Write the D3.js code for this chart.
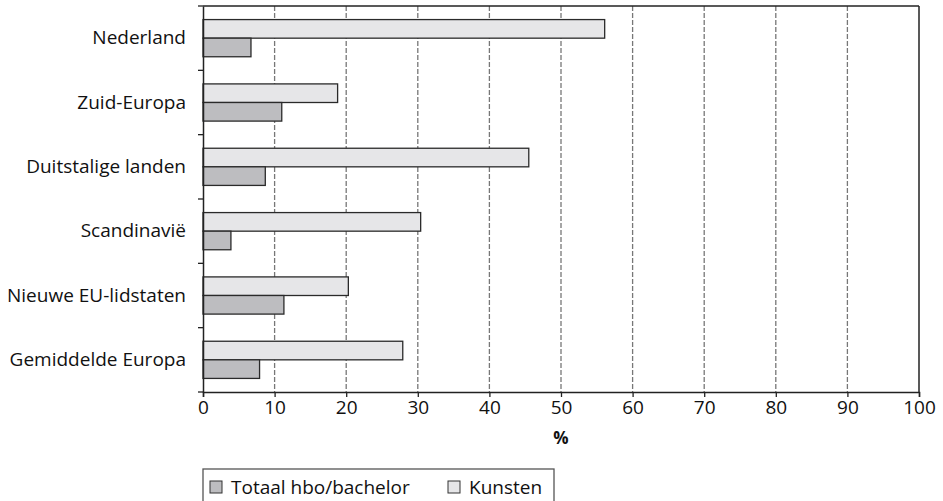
<!DOCTYPE html>
<html>
<head>
<meta charset="utf-8">
<script src="https://cdn.jsdelivr.net/npm/d3@7"></script>
<style>
  body { margin: 0; background: #fff; }
  text { font-family: "Open Sans", "DejaVu Sans", sans-serif; fill: #111; }
</style>
</head>
<body>
<div id="chart"></div>
<script>
var categories = ["Nederland", "Zuid-Europa", "Duitstalige landen", "Scandinavië", "Nieuwe EU-lidstaten", "Gemiddelde Europa"];
var series = ["Kunsten", "Totaal hbo/bachelor"];
var kunsten = [56.1, 18.8, 45.5, 30.4, 20.3, 27.9];
var totaal = [6.7, 11.0, 8.7, 3.9, 11.3, 7.9];
var xTicks = [0, 10, 20, 30, 40, 50, 60, 70, 80, 90, 100];

var width = 943,
	height = 501,
	margin = {top: 6, right: 24, bottom: 109, left: 203};

var color = {"Kunsten": "#e6e6e8", "Totaal hbo/bachelor": "#bdbdc0"};

var rows = categories.map(function(c, i) {
	return {name: c, values: [
		{key: "Kunsten", value: kunsten[i]},
		{key: "Totaal hbo/bachelor", value: totaal[i]}
	]};
});

var svg = d3.select("#chart")
	.append("svg")
	.attr("width", width)
	.attr("height", height);

var x = d3.scaleLinear()
	.domain([0, 100])
	.range([margin.left, width - margin.right]);

var y = d3.scaleBand()
	.domain(categories)
	.range([margin.top, height - margin.bottom]);

var ySub = d3.scaleBand()
	.domain(series)
	.range([0, y.bandwidth()])
	.paddingInner(0)
	.paddingOuter(0.73);

// dashed gridlines
svg.append("g")
	.selectAll("line")
	.data(xTicks.filter(function(d) { return d > 0 && d < 100; }))
	.enter().append("line")
	.attr("x1", function(d) { return x(d); })
	.attr("x2", function(d) { return x(d); })
	.attr("y1", margin.top)
	.attr("y2", height - margin.bottom)
	.attr("stroke", "#777")
	.attr("stroke-width", 1.3)
	.attr("stroke-dasharray", "5,2");

// bars
var g = svg.selectAll(".row")
	.data(rows)
	.enter().append("g")
	.attr("class", "row")
	.attr("transform", function(d) { return "translate(0," + y(d.name) + ")"; });

g.selectAll("rect")
	.data(function(d) { return d.values; })
	.enter().append("rect")
	.attr("x", x(0))
	.attr("y", function(d) { return ySub(d.key); })
	.attr("width", function(d) { return x(d.value) - x(0); })
	.attr("height", ySub.bandwidth())
	.attr("fill", function(d) { return color[d.key]; })
	.attr("stroke", "#2a2a2a")
	.attr("stroke-width", 1.3);

// frame: top and right
svg.append("line")
	.attr("x1", x(0)).attr("x2", x(100))
	.attr("y1", margin.top).attr("y2", margin.top)
	.attr("stroke", "#222").attr("stroke-width", 1.5);
svg.append("line")
	.attr("x1", x(100)).attr("x2", x(100))
	.attr("y1", margin.top).attr("y2", height - margin.bottom)
	.attr("stroke", "#222").attr("stroke-width", 1.5);

// x axis
var xAxis = svg.append("g")
	.attr("transform", "translate(0," + (height - margin.bottom) + ")")
	.call(d3.axisBottom(x).tickValues(xTicks).tickSize(5).tickPadding(4));
xAxis.select(".domain").attr("stroke", "#222").attr("stroke-width", 1.5);
xAxis.selectAll(".tick line").attr("stroke", "#222").attr("stroke-width", 1.3);
xAxis.selectAll("text")
	.style("font-family", "'Open Sans', 'DejaVu Sans', sans-serif")
	.style("font-size", "19px")
	.attr("fill", "#111");

// y axis
var yAxis = svg.append("g")
	.attr("transform", "translate(" + x(0) + ",0)")
	.call(d3.axisLeft(y).tickSize(0).tickPadding(17));
yAxis.select(".domain").attr("stroke", "#222").attr("stroke-width", 1.5);
yAxis.selectAll("text")
	.style("font-family", "'Open Sans', 'DejaVu Sans', sans-serif")
	.style("font-size", "19px")
	.attr("fill", "#111");

// small ticks at band borders
svg.append("g")
	.selectAll("line")
	.data(categories)
	.enter().append("line")
	.attr("x1", x(0) - 5).attr("x2", x(0))
	.attr("y1", function(d) { return y(d) + y.bandwidth(); })
	.attr("y2", function(d) { return y(d) + y.bandwidth(); })
	.attr("stroke", "#222").attr("stroke-width", 1.3);
svg.append("line")
	.attr("x1", x(0) - 5).attr("x2", x(0))
	.attr("y1", margin.top).attr("y2", margin.top)
	.attr("stroke", "#222").attr("stroke-width", 1.3);

// axis title
svg.append("text")
	.attr("x", x(50))
	.attr("y", 444)
	.attr("text-anchor", "middle")
	.style("font-size", "17px")
	.style("font-weight", "bold")
	.text("%");

// legend
var legend = svg.append("g");
legend.append("rect")
	.attr("x", 203).attr("y", 469)
	.attr("width", 351).attr("height", 40)
	.attr("fill", "none")
	.attr("stroke", "#555").attr("stroke-width", 1.3);

var legendItems = [
	{key: "Totaal hbo/bachelor", x: 210},
	{key: "Kunsten", x: 448}
];
var li = legend.selectAll(".item")
	.data(legendItems)
	.enter().append("g")
	.attr("class", "item")
	.attr("transform", function(d) { return "translate(" + d.x + ",481)"; });
li.append("rect")
	.attr("width", 12).attr("height", 12)
	.attr("fill", function(d) { return color[d.key]; })
	.attr("stroke", "#333").attr("stroke-width", 1);
li.append("text")
	.attr("x", 21)
	.attr("y", 6)
	.attr("dy", "0.35em")
	.style("font-size", "19px")
	.text(function(d) { return d.key; });
</script>
</body>
</html>
